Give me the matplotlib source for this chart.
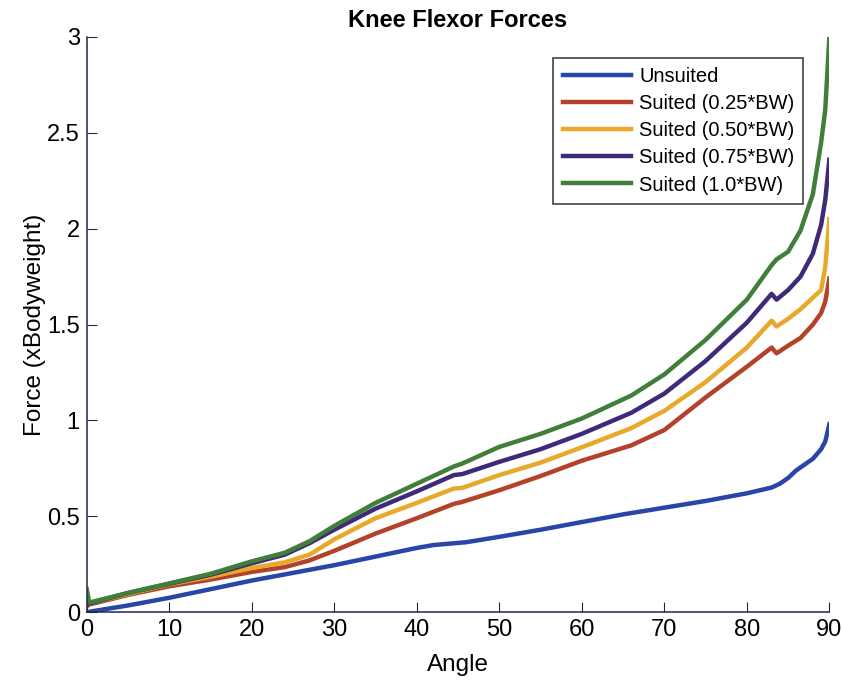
import numpy as np
import matplotlib.pyplot as plt

plt.rcParams['font.family'] = ['Liberation Sans', 'DejaVu Sans']

# unsuited curve
ang_u = [0, 5, 10, 15, 20, 25, 30, 35, 40, 42, 46, 50, 55, 60, 65, 70, 75, 80,
         83, 84, 85, 86, 87, 88, 89, 89.5, 90]
unsuited = [0, 0.035, 0.075, 0.12, 0.165, 0.205, 0.245, 0.29, 0.335, 0.35, 0.365,
            0.393, 0.43, 0.47, 0.51, 0.545, 0.58, 0.62, 0.65, 0.67, 0.70, 0.74,
            0.77, 0.80, 0.85, 0.89, 0.98]

# suited curves share the angle grid
ang_s = [0, 0.3, 5, 10, 15, 20, 24, 27, 30, 35, 40, 44.5, 45.5, 50, 55, 60, 66,
         70, 75, 80, 83, 83.6, 85, 86.5, 88, 89, 89.5, 90]
s025 = [0.03, 0.04, 0.09, 0.135, 0.17, 0.21, 0.235, 0.27, 0.32, 0.41, 0.49, 0.565,
        0.575, 0.636, 0.71, 0.79, 0.87, 0.95, 1.12, 1.28, 1.38, 1.35, 1.39, 1.43,
        1.50, 1.56, 1.62, 1.74]
s050 = [0.04, 0.045, 0.095, 0.145, 0.185, 0.23, 0.26, 0.30, 0.38, 0.49, 0.57, 0.645,
        0.648, 0.715, 0.78, 0.86, 0.96, 1.05, 1.20, 1.38, 1.52, 1.49, 1.53, 1.58,
        1.64, 1.68, 1.80, 2.05]
s075 = [0.04, 0.045, 0.10, 0.148, 0.195, 0.255, 0.30, 0.36, 0.43, 0.54, 0.63, 0.715,
        0.72, 0.784, 0.85, 0.93, 1.04, 1.14, 1.31, 1.51, 1.66, 1.63, 1.68, 1.75,
        1.87, 2.02, 2.15, 2.36]
s100 = [0.12, 0.05, 0.10, 0.15, 0.20, 0.265, 0.31, 0.37, 0.45, 0.57, 0.67, 0.76,
        0.775, 0.862, 0.93, 1.01, 1.13, 1.24, 1.42, 1.63, 1.81, 1.84, 1.88, 1.99,
        2.18, 2.45, 2.62, 3.0]

labels = ['Unsuited', 'Suited (0.25*BW)', 'Suited (0.50*BW)',
          'Suited (0.75*BW)', 'Suited (1.0*BW)']
colors = ['#2a45a8', '#b4422a', '#e8a92a', '#3e2a78', '#3f7f3a']

fig = plt.figure(figsize=(8.42, 6.84), dpi=100)
ax = fig.add_axes([0.103, 0.105, 0.882, 0.841])

ax.plot(ang_u, unsuited, color=colors[0], lw=3.2, label=labels[0])
for ys, c, lab in zip([s025, s050, s075, s100], colors[1:], labels[1:]):
    ax.plot(ang_s, ys, color=c, lw=3.2, label=lab)

ax.set_xlim(0, 90)
ax.set_ylim(0, 3)
ax.set_xticks(np.arange(0, 91, 10))
ax.set_yticks([0, 0.5, 1, 1.5, 2, 2.5, 3])
ax.set_yticklabels(['0', '0.5', '1', '1.5', '2', '2.5', '3'])
ax.spines['top'].set_visible(False)
ax.spines['right'].set_visible(False)
for s in ['left', 'bottom']:
    ax.spines[s].set_color('#262640')
    ax.spines[s].set_linewidth(1.1)
ax.tick_params(direction='in', length=7, labelsize=17, colors='#262640',
               labelcolor='black', pad=5)
ax.set_xlabel('Angle', fontsize=17.5, labelpad=9)
ax.set_ylabel('Force (xBodyweight)', fontsize=17.5, labelpad=1)
ax.set_title('Knee Flexor Forces', fontsize=17, fontweight='bold', pad=7)

leg = ax.legend(loc='upper right', bbox_to_anchor=(0.965, 0.963), fontsize=14.5,
                frameon=True, fancybox=False, edgecolor='black',
                handlelength=3.4, handletextpad=0.4, labelspacing=0.4,
                borderpad=0.45, borderaxespad=0)
leg.get_frame().set_linewidth(1.1)

fig.savefig('out.png', dpi=100)
